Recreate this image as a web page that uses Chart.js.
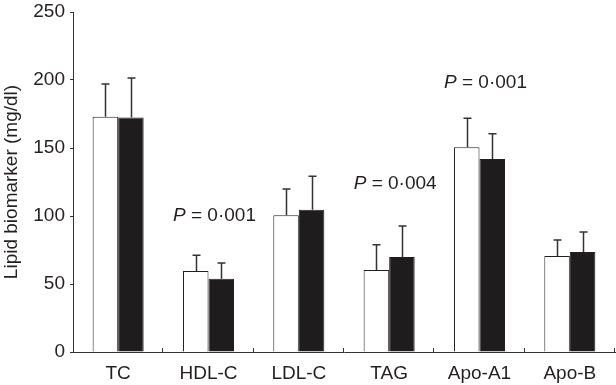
<!DOCTYPE html>
<html>
<head>
<meta charset="utf-8">
<script src="https://cdn.jsdelivr.net/npm/chart.js@4/dist/chart.umd.min.js"></script>
<style>
  html, body { margin: 0; padding: 0; background: #ffffff; }
  #wrap { width: 616px; height: 385px; }
</style>
</head>
<body>
<div id="wrap"><canvas id="c" width="616" height="385"></canvas></div>
<script>
// ---- Data ----
const categories = ['TC', 'HDL-C', 'LDL-C', 'TAG', 'Apo-A1', 'Apo-B'];
const whiteMeans = [173, 59.6, 100.5, 60.3, 150.5, 70.6];
const whiteSD    = [24, 11.5, 19.4, 18.6, 21.3, 11.8];
const blackMeans = [172.5, 53.9, 104.6, 69.9, 141.9, 73.5];
const blackSD    = [29, 11.5, 24.6, 22.7, 18.6, 14.7];
const yTicks     = [0, 50, 100, 150, 200, 250];
const yTitle     = 'Lipid biomarker (mg/dl)';
// P-value annotations: category index, value label, y level (data units)
const pCategory  = [1, 3, 4];
const pValueText = ['0·001', '0·004', '0·001'];
const pLevel     = [100, 124, 198];

const FONT = '"Liberation Sans", Arial, Helvetica, sans-serif';
const INK = '#231f20';

const errorBars = {
  id: 'errorBars',
  afterDatasetsDraw(chart) {
    const ctx = chart.ctx;
    const y = chart.scales.y;
    const sds = [whiteSD, blackSD];
    ctx.save();
    ctx.strokeStyle = '#333';
    ctx.lineWidth = 1.5;
    chart.data.datasets.forEach((ds, di) => {
      const meta = chart.getDatasetMeta(di);
      meta.data.forEach((el, i) => {
        const top = y.getPixelForValue(ds.data[i] + sds[di][i]);
        const x = Math.round(el.x) + 0.5;
        ctx.beginPath();
        ctx.moveTo(x, el.y);
        ctx.lineTo(x, top);
        ctx.moveTo(x - 4, top);
        ctx.lineTo(x + 4, top);
        ctx.stroke();
      });
    });
    ctx.restore();
  }
};

const innerTicks = {
  id: 'innerTicks',
  afterDraw(chart) {
    const ctx = chart.ctx;
    const xs = chart.scales.x;
    const bottom = chart.chartArea.bottom;
    ctx.save();
    ctx.strokeStyle = '#333';
    ctx.lineWidth = 1;
    for (let i = 1; i <= categories.length; i++) {
      const px = Math.round(xs.getPixelForValue(i - 0.5)) - 0.5;
      ctx.beginPath();
      ctx.moveTo(px, bottom);
      ctx.lineTo(px, bottom - 4);
      ctx.stroke();
    }
    ctx.restore();
  }
};

const pLabels = {
  id: 'pLabels',
  afterDraw(chart) {
    const ctx = chart.ctx;
    const xs = chart.scales.x, ys = chart.scales.y;
    ctx.save();
    ctx.fillStyle = INK;
    ctx.textBaseline = 'middle';
    pCategory.forEach((c, k) => {
      const cx = xs.getPixelForValue(c) + 6;
      const cy = ys.getPixelForValue(pLevel[k]);
      const italic = 'italic 19px ' + FONT;
      const normal = '19px ' + FONT;
      const rest = ' = ' + pValueText[k];
      ctx.font = italic;
      const wP = ctx.measureText('P').width;
      ctx.font = normal;
      const wR = ctx.measureText(rest).width;
      const x0 = cx - (wP + wR) / 2;
      ctx.textAlign = 'left';
      ctx.font = italic;
      ctx.fillText('P', x0, cy);
      ctx.font = normal;
      ctx.fillText(rest, x0 + wP, cy);
    });
    ctx.restore();
  }
};

new Chart(document.getElementById('c'), {
  type: 'bar',
  data: {
    labels: categories,
    datasets: [
      {
        label: 'Group 1',
        data: whiteMeans,
        backgroundColor: '#ffffff',
        borderColor: INK,
        borderWidth: 1,
        categoryPercentage: 0.565,
        barPercentage: 1.0
      },
      {
        label: 'Group 2',
        data: blackMeans,
        backgroundColor: '#1e1c1c',
        borderColor: INK,
        borderWidth: 1,
        categoryPercentage: 0.565,
        barPercentage: 1.0
      }
    ]
  },
  options: {
    responsive: false,
    animation: false,
    devicePixelRatio: 1,
    layout: { padding: { top: 12, right: 1, left: 0, bottom: 0 } },
    plugins: {
      legend: { display: false },
      tooltip: { enabled: false }
    },
    scales: {
      x: {
        offset: true,
        grid: { display: false },
        border: { display: true, color: '#333', width: 1 },
        ticks: {
          color: INK,
          font: { family: FONT, size: 19 },
          padding: 2,
          maxRotation: 0,
          autoSkip: false
        },
        afterFit(scale) { scale.height = 33; scale.paddingLeft = 0; scale.paddingRight = 0; }
      },
      y: {
        min: 0,
        max: 250,
        afterBuildTicks(scale) { scale.ticks = yTicks.map(v => ({ value: v })); },
        grid: { display: true, drawOnChartArea: false, drawTicks: true, tickLength: 3, color: '#333' },
        border: { display: true, color: '#333', width: 1 },
        ticks: {
          color: INK,
          font: { family: FONT, size: 19 },
          padding: 5
        },
        title: {
          display: true,
          text: yTitle,
          color: INK,
          font: { family: FONT, size: 19 },
          padding: { top: 0, bottom: 0 }
        },
        afterFit(scale) { scale.width = 73; scale.paddingTop = 0; scale.paddingBottom = 0; }
      }
    }
  },
  plugins: [errorBars, innerTicks, pLabels]
});
</script>
</body>
</html>
